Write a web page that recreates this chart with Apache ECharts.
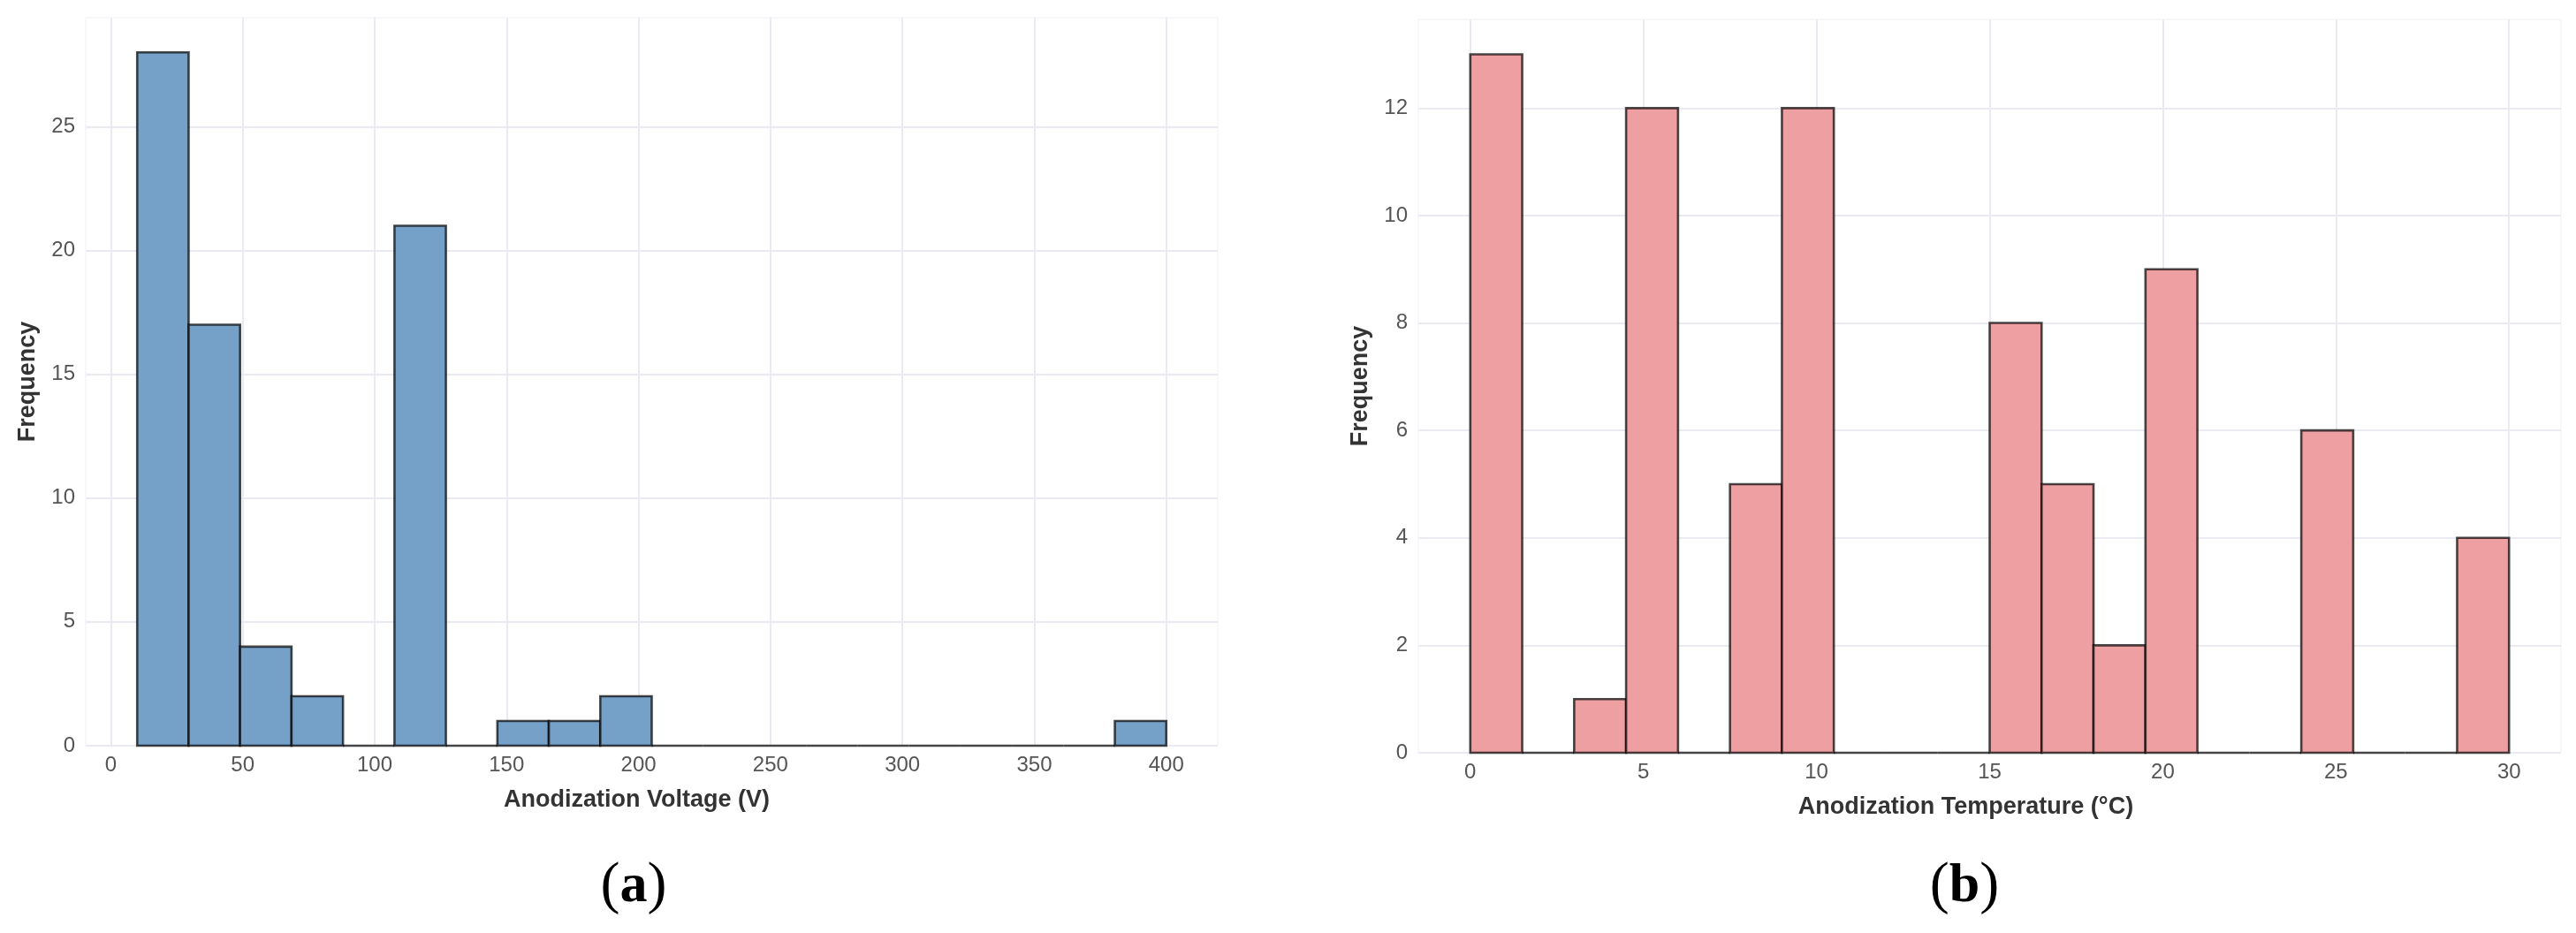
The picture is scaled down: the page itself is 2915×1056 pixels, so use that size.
<!DOCTYPE html>
<html>
<head>
<meta charset="utf-8">
<script src="https://cdn.jsdelivr.net/npm/echarts@6/dist/echarts.min.js"></script>
<style>
html,body{margin:0;padding:0;background:#fff;}
#chart{width:2915px;height:1056px;}
</style>
</head>
<body>
<div id="chart"></div>
<script>
// ---- Data (a): anodization voltage histogram ----
const voltageBinEdges = [10, 29.5, 49, 68.5, 88, 107.5, 127, 146.5, 166, 185.5, 205, 224.5, 244, 263.5, 283, 302.5, 322, 341.5, 361, 380.5, 400];
const voltageCounts   = [28, 17, 4, 2, 0, 21, 0, 1, 1, 2, 0, 0, 0, 0, 0, 0, 0, 0, 0, 1];
const voltageXTicks   = [0, 50, 100, 150, 200, 250, 300, 350, 400];
const voltageYTicks   = [0, 5, 10, 15, 20, 25];

// ---- Data (b): anodization temperature histogram ----
const tempBinEdges = [0, 1.5, 3, 4.5, 6, 7.5, 9, 10.5, 12, 13.5, 15, 16.5, 18, 19.5, 21, 22.5, 24, 25.5, 27, 28.5, 30];
const tempCounts   = [13, 0, 1, 12, 0, 5, 12, 0, 0, 0, 8, 5, 2, 9, 0, 0, 6, 0, 0, 4];
const tempXTicks   = [0, 5, 10, 15, 20, 25, 30];
const tempYTicks   = [0, 2, 4, 6, 8, 10, 12];

const labels = {
  xA: 'Anodization Voltage (V)',
  xB: 'Anodization Temperature (°C)',
  y: 'Frequency',
  capA: 'a',
  capB: 'b'
};

function binsToData(edges, counts) {
  return counts.map((c, i) => [edges[i], edges[i + 1], c]);
}

function histRender(fill) {
  return function (params, api) {
    const p0 = api.coord([api.value(0), api.value(2)]);
    const p1 = api.coord([api.value(1), 0]);
    return {
      type: 'rect',
      shape: { x: p0[0], y: p0[1], width: p1[0] - p0[0], height: p1[1] - p0[1] },
      style: { fill: fill, stroke: 'rgba(0,0,0,0.7)', lineWidth: 2.6 }
    };
  };
}

const FONT = 'Liberation Sans, Arial, sans-serif';
const gridLine = { show: true, lineStyle: { color: '#EAEAF2', width: 2 } };
const tickLabel = { color: '#555555', fontSize: 24, fontFamily: FONT };
const nameStyle = { color: '#333333', fontSize: 27, fontWeight: 'bold', fontFamily: FONT };

function xAxisCfg(gridIndex, min, max, ticks, name, pad) {
  return {
    type: 'value', gridIndex, min, max,
    axisLine: { show: false }, axisTick: { show: false, customValues: ticks },
    axisLabel: Object.assign({ margin: 10, customValues: ticks }, tickLabel),
    splitLine: gridLine,
    name, nameLocation: 'middle', nameGap: 48,
    nameTextStyle: Object.assign({ padding: pad }, nameStyle)
  };
}
function yAxisCfg(gridIndex, min, max, ticks) {
  return {
    type: 'value', gridIndex, min, max,
    axisLine: { show: false }, axisTick: { show: false, customValues: ticks },
    axisLabel: Object.assign({ margin: 12, customValues: ticks }, tickLabel),
    splitLine: gridLine,
    name: labels.y, nameLocation: 'middle', nameGap: 52, nameRotate: 90,
    nameTextStyle: nameStyle
  };
}

const SERIF = 'Liberation Serif, Times New Roman, serif';
const capRich = {
  p: { fontFamily: SERIF, fontSize: 66, fontWeight: 'normal', color: '#000' },
  b: { fontFamily: SERIF, fontSize: 62, fontWeight: 'bold', color: '#000' }
};

const chart = echarts.init(document.getElementById('chart'), null, { renderer: 'canvas' });
chart.setOption({
  backgroundColor: '#ffffff',
  animation: false,
  title: [
    { text: '{p|(}{b|' + labels.capA + '}{p|)}', left: 712, top: 966, textAlign: 'center', textStyle: { fontWeight: 'normal', rich: capRich } },
    { text: '{p|(}{b|' + labels.capB + '}{p|)}', left: 2218, top: 966, textAlign: 'center', textStyle: { fontWeight: 'normal', rich: capRich } }
  ],
  grid: [
    { left: 97, top: 20, width: 1281, height: 824, show: true, borderColor: '#F0F0F5', borderWidth: 1, containLabel: false },
    { left: 1605, top: 22, width: 1293, height: 830, show: true, borderColor: '#F0F0F5', borderWidth: 1, containLabel: false }
  ],
  xAxis: [
    xAxisCfg(0, -9.5, 419.5, voltageXTicks, labels.xA, [0, 34, 0, 0]),
    xAxisCfg(1, -1.5, 31.5, tempXTicks, labels.xB, [0, 54, 0, 0])
  ],
  yAxis: [
    yAxisCfg(0, 0, 29.4, voltageYTicks),
    yAxisCfg(1, 0, 13.65, tempYTicks)
  ],
  series: [
    {
      type: 'custom', xAxisIndex: 0, yAxisIndex: 0,
      renderItem: histRender('#75A1C8'),
      encode: { x: [0, 1], y: 2 },
      data: binsToData(voltageBinEdges, voltageCounts)
    },
    {
      type: 'custom', xAxisIndex: 1, yAxisIndex: 1,
      renderItem: histRender('#EE9FA2'),
      encode: { x: [0, 1], y: 2 },
      data: binsToData(tempBinEdges, tempCounts)
    }
  ]
});
</script>
</body>
</html>
